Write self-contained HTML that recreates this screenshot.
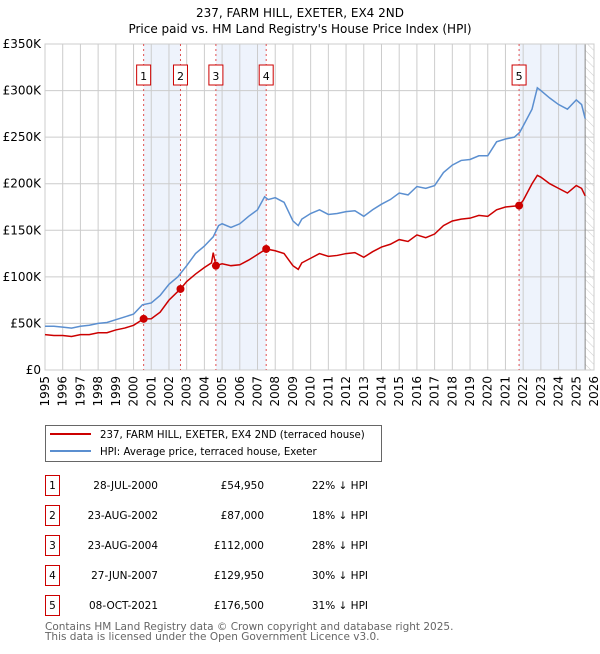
<!DOCTYPE html>
<html><head><meta charset="utf-8"><style>
body{margin:0;background:#fff;font-family:"DejaVu Sans","Liberation Sans",sans-serif;}
svg text{font-family:"DejaVu Sans","Liberation Sans",sans-serif;}
</style></head><body>
<svg id="c" width="600" height="650" xmlns="http://www.w3.org/2000/svg"></svg>
<script>
const hpiYears=[1995,1995.5,1996,1996.5,1997,1997.5,1998,1998.5,1999,1999.5,2000,2000.5,2001,2001.5,2002,2002.5,2003,2003.5,2004,2004.5,2004.8,2005,2005.5,2006,2006.5,2007,2007.4,2007.6,2008,2008.5,2009,2009.3,2009.5,2010,2010.5,2011,2011.5,2012,2012.5,2013,2013.5,2014,2014.5,2015,2015.5,2016,2016.5,2017,2017.5,2018,2018.5,2019,2019.5,2020,2020.5,2021,2021.5,2021.8,2022,2022.5,2022.8,2023,2023.5,2024,2024.5,2025,2025.3,2025.5];
const hpiValues=[47,47,46,45,47,48,50,51,54,57,60,70,72,80,92,100,112,125,133,143,155,157,153,157,165,172,186,183,185,180,160,155,162,168,172,167,168,170,171,165,172,178,183,190,188,197,195,198,212,220,225,226,230,230,245,248,250,255,262,280,303,300,292,285,280,290,285,270];
const priceYears=[1995,1995.5,1996,1996.5,1997,1997.5,1998,1998.5,1999,1999.5,2000,2000.57,2001,2001.5,2002,2002.65,2003,2003.5,2004,2004.4,2004.5,2004.65,2005,2005.5,2006,2006.5,2007,2007.49,2008,2008.5,2009,2009.3,2009.5,2010,2010.5,2011,2011.5,2012,2012.5,2013,2013.5,2014,2014.5,2015,2015.5,2016,2016.5,2017,2017.5,2018,2018.5,2019,2019.5,2020,2020.5,2021,2021.77,2022,2022.5,2022.8,2023,2023.5,2024,2024.5,2025,2025.3,2025.5];
const priceValues=[38,37,37,36,38,38,40,40,43,45,48,54.95,55,62,75,87,95,103,110,115,126,112,114,112,113,118,124,129.95,128,125,112,108,115,120,125,122,123,125,126,121,127,132,135,140,138,145,142,146,155,160,162,163,166,165,172,175,176.5,182,200,209,207,200,195,190,198,195,187];
const saleLabels=["1","2","3","4","5"];
const saleYears=[2000.57,2002.65,2004.65,2007.49,2021.77];
const saleValues=[54.95,87,112,129.95,176.5];
const saleDates=["28-JUL-2000","23-AUG-2002","23-AUG-2004","27-JUN-2007","08-OCT-2021"];
const salePrices=["£54,950","£87,000","£112,000","£129,950","£176,500"];
const saleDiffs=["22% ↓ HPI","18% ↓ HPI","28% ↓ HPI","30% ↓ HPI","31% ↓ HPI"];
const yTicks=[0,50,100,150,200,250,300,350];
const yTickLabels=["£0","£50K","£100K","£150K","£200K","£250K","£300K","£350K"];
const xTicks=[1995,1996,1997,1998,1999,2000,2001,2002,2003,2004,2005,2006,2007,2008,2009,2010,2011,2012,2013,2014,2015,2016,2017,2018,2019,2020,2021,2022,2023,2024,2025,2026];

const X0=45,X1=594,Y0=370,Y1=44;
const xs=y=>X0+(y-1995)/(2026-1995)*(X1-X0);
const ys=v=>Y0-v/350*(Y0-Y1);
const svg=document.getElementById('c');
const NS='http://www.w3.org/2000/svg';
function mk(tag,attrs,parent){const e=document.createElementNS(NS,tag);for(const k in attrs)e.setAttribute(k,attrs[k]);(parent||svg).appendChild(e);return e;}

let t=mk('text',{x:300,y:17,'text-anchor':'middle','font-size':12,fill:'#000'});t.textContent="237, FARM HILL, EXETER, EX4 2ND";


t=mk('text',{x:300,y:33,'text-anchor':'middle','font-size':12,fill:'#000'});t.textContent="Price paid vs. HM Land Registry's House Price Index (HPI)";



const bands=[[0,1],[2,3]];
bands.forEach(b=>{const r=mk('rect',{x:xs(saleYears[b[0]]),y:Y1,width:xs(saleYears[b[1]])-xs(saleYears[b[0]]),height:Y0-Y1,fill:'#eef3fc'});

});
let r5=mk('rect',{x:xs(saleYears[4]),y:Y1,width:xs(2025.5)-xs(saleYears[4]),height:Y0-Y1,fill:'#eef3fc'});


const defs=mk('defs',{});
const pat=mk('pattern',{id:'h',width:6,height:6,patternUnits:'userSpaceOnUse',patternTransform:'rotate(-45)'},defs);
mk('line',{x1:0,y1:0,x2:0,y2:6,stroke:'#ccc','stroke-width':1},pat);
let hr=mk('rect',{x:xs(2025.5),y:Y1,width:X1-xs(2025.5),height:Y0-Y1,fill:'url(#h)'});



yTicks.forEach((v,i)=>{mk('line',{x1:X0,x2:X1,y1:ys(v),y2:ys(v),stroke:'#ccc','stroke-width':1});
const l=mk('text',{x:X0-4,y:ys(v)+4,'text-anchor':'end','font-size':12,fill:'#000'});l.textContent=yTickLabels[i];

});
xTicks.forEach(y=>{mk('line',{x1:xs(y),x2:xs(y),y1:Y1,y2:Y0,stroke:'#ccc','stroke-width':1});
const l=mk('text',{x:0,y:0,'text-anchor':'end','font-size':12,fill:'#000',transform:`translate(${xs(y)+4},${Y0+6}) rotate(-90)`});l.textContent=y;

});
mk('line',{x1:xs(2025.5),x2:xs(2025.5),y1:Y1,y2:Y0,stroke:'#888','stroke-width':1});
mk('rect',{x:X0,y:Y1,width:X1-X0,height:Y0-Y1,fill:'none',stroke:'#ccc'});

saleYears.forEach((y,i)=>{mk('line',{x1:xs(y),x2:xs(y),y1:Y1,y2:Y0,stroke:'#e05050','stroke-width':1,'stroke-dasharray':'2,3'});
const g=mk('g',{});


mk('rect',{x:xs(y)-7,y:65,width:14,height:20,fill:'#fff',stroke:'#c00'},g);
const l=mk('text',{x:xs(y),y:80,'text-anchor':'middle','font-size':11,fill:'#000'},g);l.textContent=saleLabels[i];});

const hp=mk('polyline',{points:hpiYears.map((y,i)=>xs(y)+','+ys(hpiValues[i])).join(' '),fill:'none',stroke:'#5b8fd0','stroke-width':1.5});


const pp=mk('polyline',{points:priceYears.map((y,i)=>xs(y)+','+ys(priceValues[i])).join(' '),fill:'none',stroke:'#cc0000','stroke-width':1.5});


saleYears.forEach((y,i)=>{const c=mk('circle',{cx:xs(y),cy:ys(saleValues[i]),r:4,fill:'#cc0000'});

});

const lg=mk('g',{});


mk('rect',{x:45.5,y:425.5,width:336,height:36,fill:'#fff',stroke:'#666'},lg);
mk('line',{x1:50,x2:91,y1:434,y2:434,stroke:'#cc0000','stroke-width':2},lg);
mk('line',{x1:50,x2:91,y1:451,y2:451,stroke:'#5b8fd0','stroke-width':2},lg);
t=mk('text',{x:100,y:438,'font-size':10.2,fill:'#000'},lg);t.textContent="237, FARM HILL, EXETER, EX4 2ND (terraced house)";
t=mk('text',{x:100,y:455,'font-size':10.2,fill:'#000'},lg);t.textContent="HPI: Average price, terraced house, Exeter";

saleLabels.forEach((s,i)=>{const y0=475+i*30;const g=mk('g',{});


mk('rect',{x:45.5,y:y0+0.5,width:14,height:20,fill:'#fff',stroke:'#c00'},g);
let a=mk('text',{x:52.5,y:y0+14,'text-anchor':'middle','font-size':10.5,fill:'#000'},g);a.textContent=s;
a=mk('text',{x:158,y:y0+14,'text-anchor':'end','font-size':10.5,fill:'#000'},g);a.textContent=saleDates[i];
a=mk('text',{x:264,y:y0+14,'text-anchor':'end','font-size':10.5,fill:'#000'},g);a.textContent=salePrices[i];
a=mk('text',{x:368,y:y0+14,'text-anchor':'end','font-size':10.5,fill:'#000'},g);a.textContent=saleDiffs[i];});

t=mk('text',{x:45,y:630,'font-size':10.5,fill:'#666'});t.textContent="Contains HM Land Registry data © Crown copyright and database right 2025.";


t=mk('text',{x:45,y:640,'font-size':10.5,fill:'#666'});t.textContent="This data is licensed under the Open Government Licence v3.0.";


</script>
</body></html>
